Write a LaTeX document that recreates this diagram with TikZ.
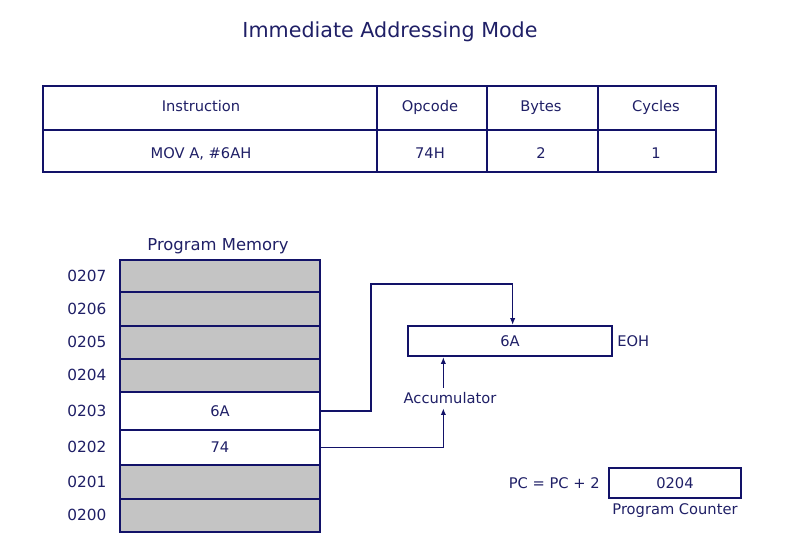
\documentclass[tikz,border=0pt]{standalone}
\usepackage{fontspec}
\setmainfont{DejaVu Sans}
\usetikzlibrary{positioning,arrows.meta}
\definecolor{inkblue}{HTML}{1F1F66}
\definecolor{lineblue}{HTML}{121268}
\definecolor{cellgray}{HTML}{C4C4C4}

\begin{document}
\begin{tikzpicture}[x=0.75pt,y=-0.75pt,
  txt/.style={text=inkblue,font=\fontsize{11}{13}\selectfont,inner sep=1pt,text height=8pt,text depth=0pt},
  addr/.style={txt,font=\fontsize{11.5}{14}\selectfont},
  tabline/.style={draw=lineblue,line width=2.1pt},
  memcell/.style={draw=lineblue,line width=1.9pt,fill=cellgray,minimum width=150pt,inner sep=0pt,text=inkblue,font=\fontsize{11}{13}\selectfont},
  usedcell/.style={memcell,fill=white},
  reg/.style={draw=lineblue,line width=1.7pt,inner sep=0pt,minimum height=22.5pt,text=inkblue,font=\fontsize{11}{13}\selectfont},
  arr/.style={draw=lineblue,line width=1pt,-{Latex[length=5pt,width=4pt]}}]
\useasboundingbox (0,0) rectangle (794,554);
\node[txt,font=\fontsize{15.5}{18}\selectfont] (title) at (390,32) {Immediate Addressing Mode};
% instruction table
\draw[tabline] (43,86) rectangle (716,172);
\draw[tabline] (43,130) -- (716,130);
\draw[tabline] (377,86) -- (377,172);
\draw[tabline] (487,86) -- (487,172);
\draw[tabline] (598,86) -- (598,172);
\node[txt] (hinstr) at (201,106) {Instruction};
\node[txt] (hopcode) at (430,106) {Opcode};
\node[txt] (hbytes) at (541,106) {Bytes};
\node[txt] (hcycles) at (656,106) {Cycles};
\node[txt] (vinstr) at (201,153) {MOV A, \#6AH};
\node[txt] (vopcode) at (430,153) {74H};
\node[txt] (vbytes) at (541,153) {2};
\node[txt] (vcycles) at (656,153) {1};
% program memory
\node[txt,font=\fontsize{12.3}{14}\selectfont] (memtitle) at (218,245) {Program Memory};
\node[memcell,minimum height=24pt] (m0207) at (220,276) {};
\node[memcell,minimum height=25.5pt] (m0206) at (220,309) {};
\node[memcell,minimum height=24.75pt] (m0205) at (220,342.5) {};
\node[memcell,minimum height=24.75pt] (m0204) at (220,375.5) {};
\node[usedcell,minimum height=28.5pt] (m0203) at (220,411) {6A};
\node[usedcell,minimum height=26.25pt] (m0202) at (220,447.5) {74};
\node[memcell,minimum height=25.5pt] (m0201) at (220,482) {};
\node[memcell,minimum height=24.75pt] (m0200) at (220,515.5) {};
\node[addr,left=8pt of m0207] (a0207) {0207};
\node[addr,left=8pt of m0206] (a0206) {0206};
\node[addr,left=8pt of m0205] (a0205) {0205};
\node[addr,left=8pt of m0204] (a0204) {0204};
\node[addr,left=8pt of m0203] (a0203) {0203};
\node[addr,left=8pt of m0202] (a0202) {0202};
\node[addr,left=8pt of m0201] (a0201) {0201};
\node[addr,left=8pt of m0200] (a0200) {0200};
% accumulator
\node[reg,minimum width=153pt] (acc) at (510,341) {6A};
\node[txt,right=2pt of acc] (eoh) {EOH};
\node[txt,inner sep=3.5pt] (acclabel) at (450,398) {Accumulator};
% program counter
\node[reg,minimum width=99pt] (pc) at (675,483) {0204};
\node[txt,left=5pt of pc] (pcinc) {PC = PC + 2};
\node[txt,below=2.5pt of pc] (pclabel) {Program Counter};
% data paths
\coordinate (bend) at (371,284);
\draw[arr] (m0203.east) -| (bend) -| ([xshift=2pt]acc.north);
\draw[arr] (m0202.east) -| ([xshift=-5pt]acclabel.south);
\draw[arr] ([xshift=-5pt]acclabel.north) -- ([xshift=-5pt]acclabel.north |- acc.south);
\end{tikzpicture}
\end{document}
